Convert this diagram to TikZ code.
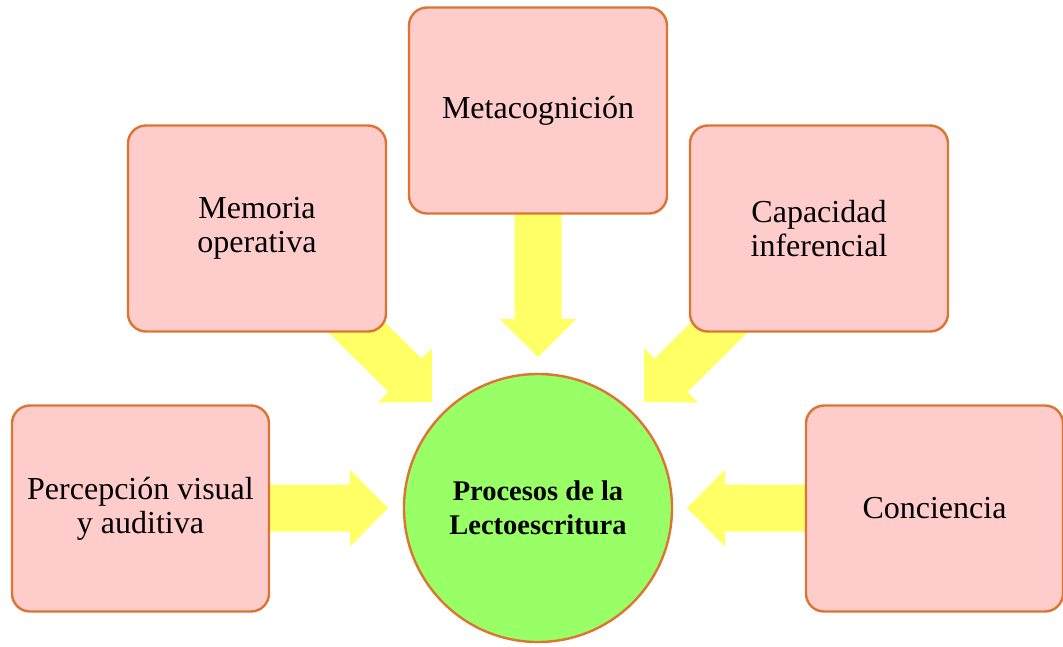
\documentclass[tikz,border=0pt]{standalone}
\usepackage{fontspec}
\setmainfont{Liberation Serif}
\usetikzlibrary{calc}
\definecolor{boxfill}{HTML}{FFCCCC}
\definecolor{boxline}{HTML}{DD7432}
\definecolor{circfill}{HTML}{99FF66}
\definecolor{arrfill}{HTML}{FFFF66}
\pgfdeclarelayer{bg}
\pgfsetlayers{bg,main}
\newcommand\blockarr[2]{%
  \coordinate (ba-h) at ($(#2)!38pt!(#1)$);
  \fill[arrfill] ($(#1)!23.5pt!90:(#2)$) -- ($(ba-h)!23.5pt!90:(#2)$) -- ($(ba-h)!38.5pt!90:(#2)$) -- (#2)
     -- ($(ba-h)!38.5pt!-90:(#2)$) -- ($(ba-h)!23.5pt!-90:(#2)$) -- ($(#1)!23.5pt!-90:(#2)$) -- cycle;}
\begin{document}
\begin{tikzpicture}[x=1pt,y=-1pt,
  box/.style={draw=boxline, line width=2.4pt, fill=boxfill, rounded corners=18pt,
    minimum width=258pt, minimum height=206pt, inner sep=0pt, align=center,
    font=\fontsize{32}{34}\selectfont},
  hub/.style={circle, draw=boxline, line width=2.4pt, fill=circfill, minimum size=268pt,
    inner sep=0pt, align=center, font=\bfseries\fontsize{28.5}{34}\selectfont}]
\useasboundingbox (0,0) rectangle (1063,646);
\node[box] (meta) at (538,110.5) {Metacognición};
\node[box] (mem) at (257,228.5) {Memoria\\operativa};
\node[box] (cap) at (819,228.5) {Capacidad\\inferencial};
\node[box, minimum width=257pt] (perc) at (140.5,508.5) {Percepción visual\\y auditiva};
\node[box, minimum width=257pt] (conc) at (934.5,508.5) {Conciencia};
\node[hub] (hub) at (538,508) {Procesos de la\\Lectoescritura};
\coordinate (tipT) at (538,357);
\coordinate (tipML) at (432,402);
\coordinate (tipMR) at (644,402);
\coordinate (tipL) at (388,508);
\coordinate (tipR) at (687,508);
\begin{pgfonlayer}{bg}
\blockarr{meta.center}{tipT}
\blockarr{mem.center}{tipML}
\blockarr{cap.center}{tipMR}
\blockarr{perc.center}{tipL}
\blockarr{conc.center}{tipR}
\end{pgfonlayer}
\end{tikzpicture}
\end{document}
